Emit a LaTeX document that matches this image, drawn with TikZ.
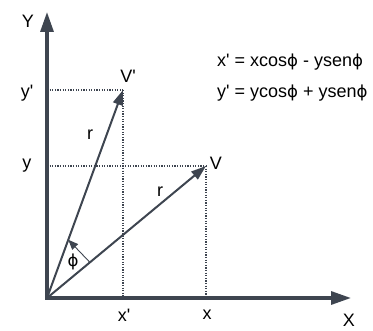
\documentclass[tikz,border=0pt]{standalone}
\usepackage{fontspec}
\setmainfont{Liberation Sans}[Ligatures=TeXOff]
\newfontfamily\phifont{DejaVu Sans}[Scale=0.92]
\usetikzlibrary{arrows.meta,calc}
\definecolor{ax}{HTML}{3E4550}
\newcommand\fph{{\phifont ϕ}}
\begin{document}
\begin{tikzpicture}[x=1pt,y=-1pt,
  axis/.style={draw=ax,line width=3.2pt,{Triangle[length=20pt,width=13pt]}-{Triangle[length=20pt,width=13pt]}},
  vec/.style={draw=ax,line width=2pt,-{Triangle[length=15pt,width=10pt]}},
  guide/.style={draw=ax,line width=1.4pt,dash pattern=on 1.2pt off 1.4pt},
  thin/.style={draw=ax,line width=0.9pt,-{Triangle[length=10pt,width=8pt]}},
  lbl/.style={font=\fontsize{18}{21}\selectfont,text=black,inner sep=0pt},
  ]
\useasboundingbox (0,0) rectangle (373,331);
\coordinate (O) at (47,298);
\coordinate (Yend) at (47,12);
\coordinate (Xend) at (351,298);
\coordinate (V) at (206,166);
\coordinate (Vp) at (123,90);
% guides
\draw[guide] (O |- Vp) -- (Vp);
\draw[guide] (Vp) -- (Vp |- O);
\draw[guide] (O |- V) -- (V);
\draw[guide] (V) -- (V |- O);
% axes
\draw[axis] (Yend) -- (O) -- (Xend);
% vectors
\draw[vec] (O) -- (Vp);
\draw[vec] (O) -- (V);
% angle arrow
\coordinate (pa) at ($(O)!0.27!(V)$);
\coordinate (pb) at ($(O)!0.28!(Vp)$);
\draw[thin] (pa) -- (pb);
% labels
\node[lbl] (lY) at (28,21) {Y};
\node[lbl] (lX) at (349,320) {X};
\node[lbl] (lyp) at (27,93) {y'};
\node[lbl] (ly) at (27,166) {y};
\node[lbl] (lxp) at (124,315) {x'};
\node[lbl] (lx) at (207,315) {x};
\node[lbl] (lVp) at (128,76) {V'};
\node[lbl] (lV) at (216,163) {V};
\node[lbl] (lr1) at (90,135) {r};
\node[lbl] (lr2) at (160,192) {r};
\node[lbl] (lphi) at (73,262) {\fph};
\node[lbl,anchor=west] (eq1) at (217,62) {x' = xcos\fph{} - ysen\fph};
\node[lbl,anchor=west] (eq2) at (217,93) {y' = ycos\fph{} + ysen\fph};
\end{tikzpicture}
\end{document}
